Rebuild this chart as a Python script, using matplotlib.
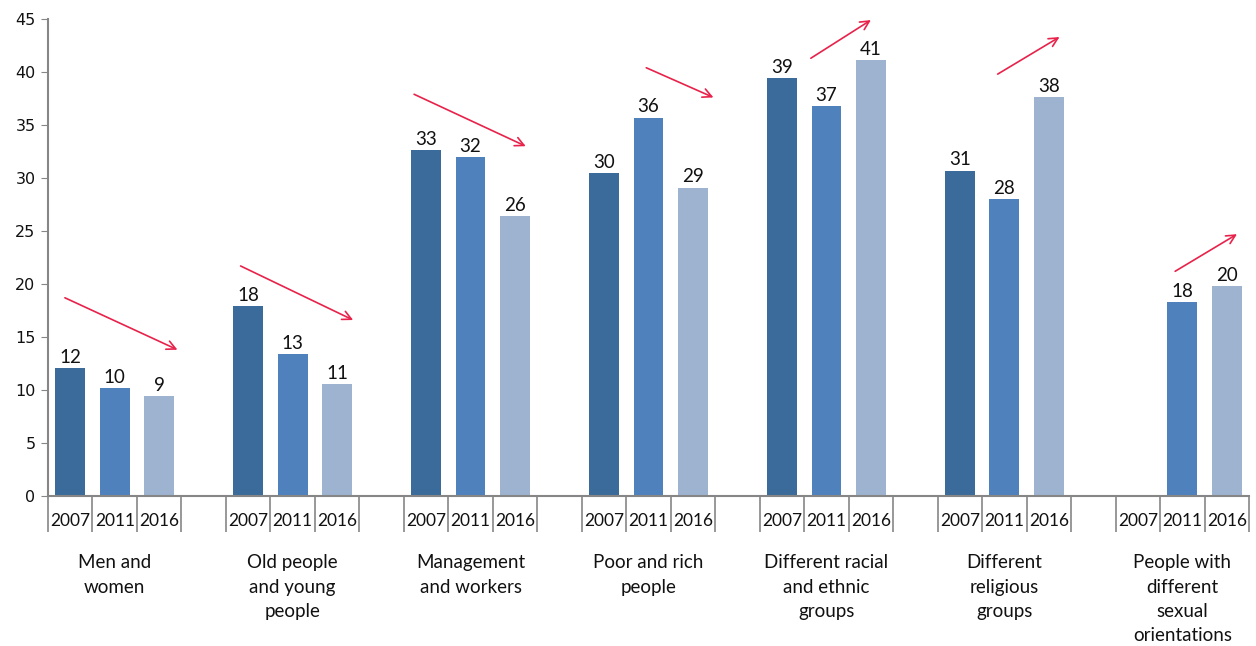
import matplotlib.pyplot as plt
import numpy as np

categories = ["Men and\nwomen", "Old people\nand young\npeople", "Management\nand workers",
              "Poor and rich\npeople", "Different racial\nand ethnic\ngroups",
              "Different\nreligious\ngroups", "People with\ndifferent\nsexual\norientations"]
years = ["2007", "2011", "2016"]
v2007 = [12.1, 17.9, 32.6, 30.5, 39.4, 30.7, None]
v2011 = [10.2, 13.4, 32.0, 35.7, 36.8, 28.0, 18.3]
v2016 = [9.4, 10.6, 26.4, 29.1, 41.1, 37.6, 19.8]
lab2007 = ["12", "18", "33", "30", "39", "31", None]
lab2011 = ["10", "13", "32", "36", "37", "28", "18"]
lab2016 = ["9", "11", "26", "29", "41", "38", "20"]

# trend arrows: (x start, y start, x end, y end) in slot units relative to group start
arrows = [(0.38, 18.7, 2.91, 13.8), (0.33, 21.7, 2.86, 16.6), (0.23, 37.9, 2.74, 33.0),
          (1.45, 40.4, 2.96, 37.6), (1.15, 41.3, 2.5, 44.9), (1.35, 39.8, 2.74, 43.3),
          (1.34, 21.2, 2.73, 24.7)]

colors = ["#3A6B9A", "#4F81BD", "#9EB3D0"]
axis_gray = "#868686"
red = "#E8224A"
font = ["Lato", "DejaVu Sans"]

fig = plt.figure(figsize=(12.56, 6.46), dpi=100)
ax = fig.add_axes([48 / 1256, 150 / 646, 1201 / 1256, 477 / 646])

n = len(categories)
series = [v2007, v2011, v2016]
labels = [lab2007, lab2011, lab2016]
for g in range(n):
    start = g * 4
    for k in range(3):
        val = series[k][g]
        x = start + k + 0.5
        if val is None:
            continue
        ax.bar(x, val, width=0.67, color=colors[k], zorder=2)
        ax.annotate(labels[k][g], (x, val), xytext=(0, 1.5), textcoords="offset points",
                    ha="center", va="bottom", fontsize=13.5, family=font, color="#111111")
    ax.annotate(categories[g], xy=(start + 1.5, 0), xycoords=("data", "axes fraction"),
                xytext=(0, -42), textcoords="offset points", ha="center", va="top",
                fontsize=13.5, family=font, linespacing=1.52, color="#111111")
    x0, y0, x1, y1 = arrows[g]
    ax.annotate("", xy=(start + x1, y1), xytext=(start + x0, y0),
                arrowprops=dict(arrowstyle="->", color=red, lw=1.2,
                                mutation_scale=16, shrinkA=0, shrinkB=0),
                annotation_clip=False)

total = 4 * n - 1
ax.set_xlim(0, total)
ax.set_ylim(0, 45)
ax.set_yticks(np.arange(0, 46, 5))
ax.tick_params(axis="y", direction="out", length=5, color=axis_gray, labelsize=11.5,
               labelcolor="#111111", pad=4)

# year labels in the slots and separators between slots
major = []
major_labels = []
for g in range(n):
    for k in range(3):
        major.append(g * 4 + k + 0.5)
        major_labels.append(years[k])
ax.set_xticks(major)
ax.set_xticklabels(major_labels, fontsize=12.5, family=font, color="#111111")
ax.tick_params(axis="x", which="major", length=0, pad=12)
ax.set_xticks(np.arange(0, total + 1), minor=True)
ax.tick_params(axis="x", which="minor", direction="out", length=26, width=1.2, color=axis_gray)

for side in ["top", "right"]:
    ax.spines[side].set_visible(False)
for side in ["left", "bottom"]:
    ax.spines[side].set_color(axis_gray)
    ax.spines[side].set_linewidth(1.5)

fig.savefig("out.png", dpi=100)
